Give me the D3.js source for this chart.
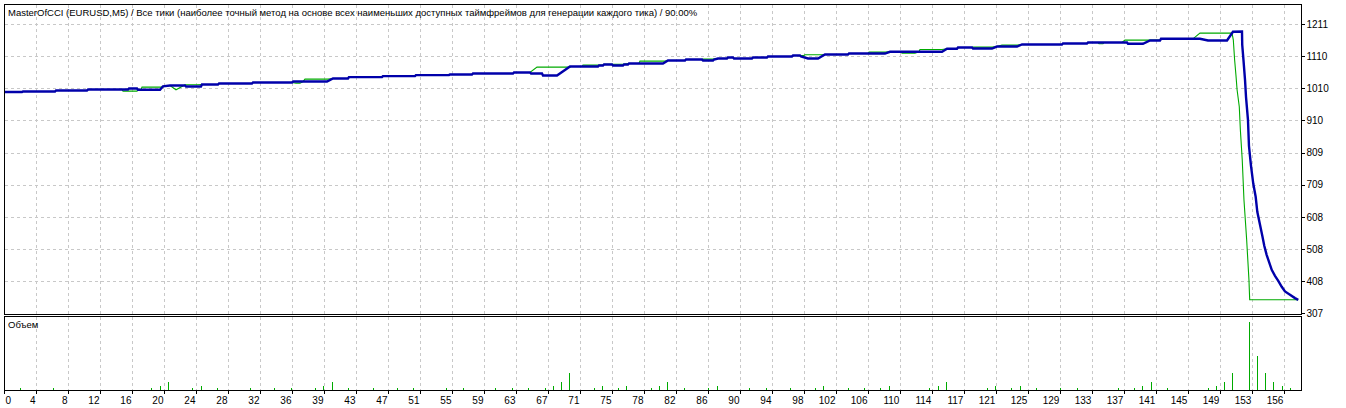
<!DOCTYPE html>
<html>
<head>
<meta charset="utf-8">
<script src="https://cdn.jsdelivr.net/npm/d3@7"></script>
<style>
  body { margin: 0; background: #fff; }
  svg { display: block; font-family: "Liberation Sans", Arial, sans-serif; }
</style>
</head>
<body>
<svg id="chart" width="1346" height="408"></svg>
<script>
const title = 'MasterOfCCI (EURUSD,M5) / Все тики (наиболее точный метод на основе всех наименьших доступных таймфреймов для генерации каждого тика) / 90.00%';
const volumeTitle = 'Объем';

// labels on the trade axis (one every grid cell) and on the money axis
const xTickLabels = [0, 4, 8, 12, 16, 20, 24, 28, 32, 36, 39, 43, 47, 51, 55, 59, 63, 67, 71, 75, 78,
  82, 86, 90, 94, 98, 102, 106, 110, 114, 117, 121, 125, 129, 133, 137, 141, 145, 149, 153, 156];
const yTickLabels = [307, 408, 508, 608, 709, 809, 910, 1010, 1110, 1211];

// balance (green) - trade number / money
const balanceTrade = [0, 2.14, 2.26, 6.17, 6.29, 10.07, 10.2, 14.35, 14.47, 16.18, 16.3, 16.67, 16.79, 19.35, 19.6,
  20.21, 20.94, 21.67, 22.04, 23.5, 24.11, 26.07, 26.19, 30.22, 30.34, 35.1, 35.59, 36.08, 36.45, 36.69, 39.5,
  40.11, 41.94, 42.06, 46.09, 46.21, 50.12, 50.24, 54.27, 54.39, 57.08, 57.2, 62.09, 62.21, 64.16, 65.02, 69.05,
  69.17, 70.51, 70.63, 73.08, 73.2, 75.52, 76.13, 77.47, 77.59, 80.65, 81.01, 83.09, 83.21, 85.16, 85.29, 86.51,
  87.12, 88.22, 88.34, 88.95, 89.07, 91.27, 91.39, 93.1, 93.22, 96.15, 96.28, 97.62, 97.74, 99.94, 100.18, 102.99,
  103.11, 105.43, 105.56, 107.51, 108.12, 109.46, 109.58, 111.17, 111.66, 111.78, 114.47, 115.08, 116.3, 116.42,
  118.13, 118.25, 120.57, 121.18, 121.79, 123.63, 124.24, 129.12, 129.24, 132.17, 132.3, 133.52, 133.64, 134.13,
  134.25, 136.45, 136.81, 139.5, 141.09, 141.21, 145.12, 145.97, 149.88, 150.04, 150.2, 150.37, 150.5, 150.77,
  150.9, 151.13, 151.34, 151.67, 151.95, 152.04, 157.97];
const balanceValue = [1000, 1000, 1001.8, 1001.8, 1004.9, 1004.9, 1008, 1008, 1003, 1003, 1007.1, 1007.1, 1015.5,
  1015.5, 1020.5, 1020.5, 1007.1, 1017.4, 1022.7, 1022.7, 1023.7, 1023.7, 1026.8, 1026.8, 1029.9, 1029.9, 1028,
  1028, 1033, 1040.5, 1040.5, 1042.4, 1042.4, 1046.8, 1046.8, 1049.9, 1049.9, 1053, 1053, 1054.9, 1054.9, 1058,
  1058, 1061.2, 1061.2, 1078, 1078, 1079.9, 1079.9, 1084.3, 1084.3, 1086.8, 1086.8, 1089.3, 1089.3, 1096.8, 1096.8,
  1098.7, 1098.7, 1101.8, 1101.8, 1103, 1103, 1104.9, 1104.9, 1108, 1108, 1104.9, 1104.9, 1108, 1108, 1111.2,
  1111.2, 1114.3, 1114.3, 1116.5, 1116.5, 1117.4, 1117.4, 1120.5, 1120.5, 1124.9, 1124.9, 1125.9, 1125.9, 1121.8,
  1121.8, 1125.9, 1133, 1133, 1135.2, 1135.2, 1139.3, 1139.3, 1140.5, 1140.5, 1142.4, 1146.8, 1146.8, 1148.7,
  1148.7, 1151.8, 1151.8, 1154.9, 1154.9, 1150.9, 1150.9, 1154.9, 1154.9, 1162.4, 1162.4, 1162.4, 1166.5, 1166.5,
  1184.3, 1184.3, 1163.4, 1100.8, 1050, 1007.1, 954, 882.1, 788.3, 663.3, 538.3, 413.2, 350.7, 350.7];

// equity (blue)
const equityTrade = [0, 2.14, 2.26, 6.17, 6.29, 10.07, 10.2, 15.08, 15.2, 16.18, 16.3, 18.99, 19.35, 20.21, 22.04,
  22.16, 23.99, 24.11, 26.07, 26.19, 30.22, 30.34, 35.1, 35.23, 39.38, 40.11, 41.94, 42.06, 46.09, 46.21, 50.12,
  50.24, 54.27, 54.39, 57.08, 57.2, 62.09, 62.21, 64.16, 64.29, 65.63, 65.75, 67.46, 69.05, 72.47, 72.59, 73.08,
  73.2, 74.18, 74.3, 75.52, 75.64, 76.13, 76.25, 80.4, 81.01, 83.09, 83.21, 85.16, 85.29, 86.51, 86.63, 87.12,
  88.22, 88.34, 88.95, 89.07, 91.27, 91.39, 93.1, 93.22, 96.15, 96.28, 97.13, 97.25, 98.11, 99.33, 100.18, 102.99,
  103.11, 107.51, 108.12, 114.47, 115.08, 116.3, 116.42, 118.13, 118.25, 120.57, 121.18, 123.63, 124.24, 129.12,
  129.24, 132.17, 132.3, 137.06, 137.18, 139.01, 139.87, 141.09, 141.21, 145.97, 146.95, 149.27, 150, 151.1,
  151.13, 151.28, 151.47, 151.59, 151.83, 151.95, 152.2, 152.48, 152.77, 152.97, 153.3, 153.58, 153.82, 154.11,
  154.4, 154.73, 155.13, 155.53, 155.95, 156.35, 156.96, 157.57, 157.97];
const equityValue = [1000, 1000, 1001.8, 1001.8, 1004.9, 1004.9, 1008, 1008, 1011.1, 1011.1, 1007.1, 1007.1, 1018,
  1020.5, 1020.5, 1017.4, 1017.4, 1023.7, 1023.7, 1026.8, 1026.8, 1029.9, 1029.9, 1033, 1033, 1042.4, 1042.4,
  1046.8, 1046.8, 1049.9, 1049.9, 1053, 1053, 1054.9, 1054.9, 1058, 1058, 1061.2, 1061.2, 1058, 1058, 1051.8,
  1051.8, 1079.9, 1079.9, 1083, 1083, 1086.2, 1086.2, 1083, 1083, 1086.2, 1086.2, 1089.3, 1089.3, 1098.7, 1098.7,
  1101.8, 1101.8, 1098.7, 1098.7, 1101.8, 1104.9, 1104.9, 1108, 1108, 1104.9, 1104.9, 1108, 1108, 1111.2, 1111.2,
  1114.3, 1114.3, 1111.2, 1104.9, 1104.9, 1117.4, 1117.4, 1120.5, 1120.5, 1125.9, 1125.9, 1135.2, 1135.2, 1139.3,
  1139.3, 1136.2, 1136.2, 1142.4, 1142.4, 1148.7, 1148.7, 1151.8, 1151.8, 1154.9, 1154.9, 1150.9, 1150.9, 1161.2,
  1161.2, 1166.5, 1166.5, 1161.2, 1161.2, 1188.4, 1189.3, 1147.7, 1100.8, 1038.3, 985.2, 913.3, 832.1, 769.5,
  713.3, 672.7, 625.8, 585.1, 550.8, 519.5, 491.4, 469.5, 444.5, 425.7, 410.1, 391.4, 376.7, 366.4, 356, 350.7];

// lots per trade for the lower panel
const volumeTrade = [2, 6, 18, 19, 20, 23, 24, 26, 30, 33, 35, 38, 39, 40, 42, 45, 48, 50, 54, 56, 60, 62, 64, 66,
  67, 68, 69, 72, 73, 75, 76, 79, 80, 81, 83, 86, 87, 91, 93, 96, 99, 100, 103, 105, 107, 108, 113, 114, 115, 120,
  121, 123, 124, 126, 129, 131, 136, 138, 139, 140, 142, 147, 148, 149, 150, 152, 153, 154, 155, 156, 157];
const volumeLots = [0.01, 0.01, 0.01, 0.02, 0.04, 0.01, 0.02, 0.01, 0.01, 0.01, 0.01, 0.01, 0.02, 0.04, 0.01, 0.01,
  0.01, 0.01, 0.01, 0.01, 0.01, 0.01, 0.01, 0.01, 0.02, 0.04, 0.08, 0.01, 0.02, 0.01, 0.02, 0.01, 0.02, 0.04, 0.01,
  0.01, 0.02, 0.01, 0.01, 0.01, 0.01, 0.02, 0.01, 0.01, 0.01, 0.02, 0.01, 0.02, 0.04, 0.01, 0.02, 0.01, 0.02, 0.01,
  0.01, 0.01, 0.01, 0.01, 0.02, 0.04, 0.01, 0.01, 0.02, 0.04, 0.08, 0.32, 0.16, 0.08, 0.04, 0.02, 0.01];

class TesterGraph {

  constructor(_config) {
    this.config = {
      parentElement: _config.parentElement,
      left: 4.5,
      right: 1301.5,
      mainTop: 4.5,
      mainBottom: 314.5,
      volTop: 316.5,
      volBottom: 390.5,
      tradesPerGrid: 3.907
    };
    this.balance = balanceTrade.map((t, i) => ({ t: t, v: balanceValue[i] }));
    this.equity = equityTrade.map((t, i) => ({ t: t, v: equityValue[i] }));
    this.volume = volumeTrade.map((t, i) => ({ t: t, lots: volumeLots[i] }));
    this.initVis();
  }

  initVis() {
    let vis = this;
    const c = vis.config;
    const crisp = p => Math.round(p - 0.5) + 0.5;

    vis.svg = d3.select(c.parentElement);

    vis.xScale = d3.scaleLinear().domain([0, 158]).range([4.5, 1298.5]);
    vis.yScale = d3.scaleLinear().domain([307.6, 1211.2]).range([313.6, 24.5]);
    vis.volScale = d3.scaleLinear().domain([0, 0.35]).range([c.volBottom, c.volTop - 1]);

    const gridPos = xTickLabels.map((d, i) => i * c.tradesPerGrid);

    // grid
    const grid = vis.svg.append('g')
      .attr('stroke', '#c8c8c8')
      .attr('stroke-dasharray', '3,3')
      .attr('shape-rendering', 'crispEdges');

    grid.selectAll('.vgrid')
      .data(gridPos.slice(1))
      .join('line')
      .attr('class', 'vgrid')
      .attr('x1', d => crisp(vis.xScale(d)))
      .attr('x2', d => crisp(vis.xScale(d)))
      .attr('y1', c.mainTop)
      .attr('y2', c.mainBottom);

    grid.selectAll('.vgrid2')
      .data(gridPos.slice(1))
      .join('line')
      .attr('class', 'vgrid2')
      .attr('x1', d => crisp(vis.xScale(d)))
      .attr('x2', d => crisp(vis.xScale(d)))
      .attr('y1', c.volTop)
      .attr('y2', c.volBottom);

    grid.selectAll('.hgrid')
      .data(yTickLabels.slice(1))
      .join('line')
      .attr('class', 'hgrid')
      .attr('x1', c.left)
      .attr('x2', c.right)
      .attr('y1', d => crisp(vis.yScale(d)))
      .attr('y2', d => crisp(vis.yScale(d)));

    // volume bars
    vis.svg.append('g')
      .selectAll('line')
      .data(vis.volume)
      .join('line')
      .attr('x1', d => crisp(vis.xScale(d.t)))
      .attr('x2', d => crisp(vis.xScale(d.t)))
      .attr('y1', c.volBottom)
      .attr('y2', d => vis.volScale(d.lots))
      .attr('stroke', '#00aa00')
      .attr('stroke-width', 1)
      .attr('shape-rendering', 'crispEdges');

    const line = d3.line()
      .x(d => vis.xScale(d.t))
      .y(d => vis.yScale(d.v));

    vis.svg.append('path')
      .attr('d', line(vis.balance))
      .attr('fill', 'none')
      .attr('stroke', '#00aa00')
      .attr('stroke-width', 1.1);

    vis.svg.append('path')
      .attr('d', line(vis.equity))
      .attr('fill', 'none')
      .attr('stroke', '#0000aa')
      .attr('stroke-width', 2.4)
      .attr('stroke-linejoin', 'miter');

    // panel frames
    vis.svg.append('rect')
      .attr('x', c.left).attr('y', c.mainTop)
      .attr('width', c.right - c.left).attr('height', c.mainBottom - c.mainTop)
      .attr('fill', 'none').attr('stroke', '#000')
      .attr('shape-rendering', 'crispEdges');

    vis.svg.append('rect')
      .attr('x', c.left).attr('y', c.volTop)
      .attr('width', c.right - c.left).attr('height', c.volBottom - c.volTop)
      .attr('fill', 'none').attr('stroke', '#000')
      .attr('shape-rendering', 'crispEdges');

    // axes
    vis.yAxis = d3.axisRight(vis.yScale)
      .tickValues(yTickLabels)
      .tickFormat(d3.format('d'))
      .tickSize(3)
      .tickPadding(2)
      .offset(0);

    vis.xAxis = d3.axisBottom(vis.xScale)
      .tickValues(gridPos)
      .tickFormat((d, i) => xTickLabels[i])
      .tickSize(3)
      .tickPadding(3)
      .offset(0);

    vis.yAxisGroup = vis.svg.append('g')
      .attr('transform', `translate(${c.right}, 0)`)
      .call(vis.yAxis);

    vis.xAxisGroup = vis.svg.append('g')
      .attr('transform', `translate(0, ${c.volBottom})`)
      .call(vis.xAxis);

    [vis.xAxisGroup, vis.yAxisGroup].forEach(g => {
      g.select('.domain').remove();
      g.attr('font-family', null).attr('font-size', 10);
      g.selectAll('.tick line').attr('stroke', '#000').attr('shape-rendering', 'crispEdges');
      g.selectAll('.tick text').attr('fill', '#000');
    });

    // labels sit just left of their grid line, the first one is pushed inside
    vis.xAxisGroup.selectAll('.tick text')
      .attr('text-anchor', (d, i) => i === 0 ? 'start' : 'end')
      .attr('x', (d, i) => i === 0 ? 1 : -1);

    vis.svg.append('text')
      .attr('x', 8)
      .attr('y', 16)
      .attr('font-size', 9.5)
      .attr('fill', '#000')
      .text(title);

    vis.svg.append('text')
      .attr('x', 8)
      .attr('y', 328)
      .attr('font-size', 9.5)
      .attr('fill', '#000')
      .text(volumeTitle);
  }
}

new TesterGraph({ parentElement: '#chart' });
</script>
</body>
</html>
